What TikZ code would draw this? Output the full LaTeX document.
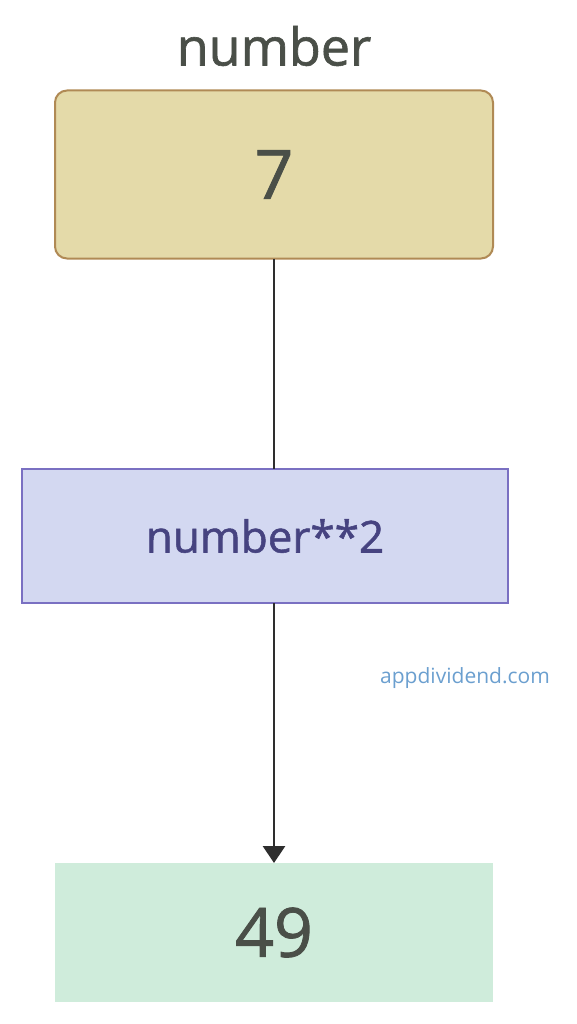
\documentclass[tikz,border=0pt]{standalone}
\usepackage{fontspec}
\setmainfont{Open Sans}
\newfontfamily\semifont[FakeBold=1.2]{Open Sans}
\usetikzlibrary{arrows.meta}
\definecolor{topfill}{HTML}{E4DAA9}
\definecolor{topdraw}{HTML}{B08A55}
\definecolor{textdark}{HTML}{4A4F48}
\definecolor{midfill}{HTML}{D3D8F1}
\definecolor{middraw}{HTML}{7A70C2}
\definecolor{midtext}{HTML}{464380}
\definecolor{botfill}{HTML}{CFECDB}
\definecolor{wmcol}{HTML}{6B9FCF}
\definecolor{linecol}{HTML}{2E2E2E}
\tikzset{
  boxbase/.style={rectangle, inner sep=0pt, outer sep=0pt},
  topbox/.style={boxbase, fill=topfill, draw=topdraw, line width=2pt, rounded corners=12pt,
    minimum width=438pt, minimum height=168pt, text=textdark, font=\semifont\fontsize{68}{80}\selectfont},
  midbox/.style={boxbase, fill=midfill, draw=middraw, line width=2pt,
    minimum width=486pt, minimum height=134pt, text=midtext, font=\semifont\fontsize{44}{52}\selectfont},
  botbox/.style={boxbase, fill=botfill,
    minimum width=438pt, minimum height=139pt, text=textdark, font=\semifont\fontsize{68}{80}\selectfont},
  titletext/.style={text=textdark, font=\semifont\fontsize{52}{60}\selectfont},
  wmtext/.style={text=wmcol, font=\fontsize{21}{25}\selectfont},
  link/.style={draw=linecol, line width=2.8pt},
}
\begin{document}
\begin{tikzpicture}[x=1pt,y=-1pt]
\useasboundingbox (0,0) rectangle (577,1024);
\node[titletext] (title) at (274,46) {number};
\node[topbox] (top) at (274,174.5) {7};
\node[midbox] (mid) at (265,536) {number**2};
\node[botbox] (bot) at (274,932.5) {49};
\node[wmtext] (wm) at (465,678) {appdividend.com};
\draw[link] (top.south) -- (top.south |- mid.north);
\draw[link, -{Triangle[width=22pt,length=17pt]}] (bot.north |- mid.south) -- (bot.north);
\end{tikzpicture}
\end{document}
